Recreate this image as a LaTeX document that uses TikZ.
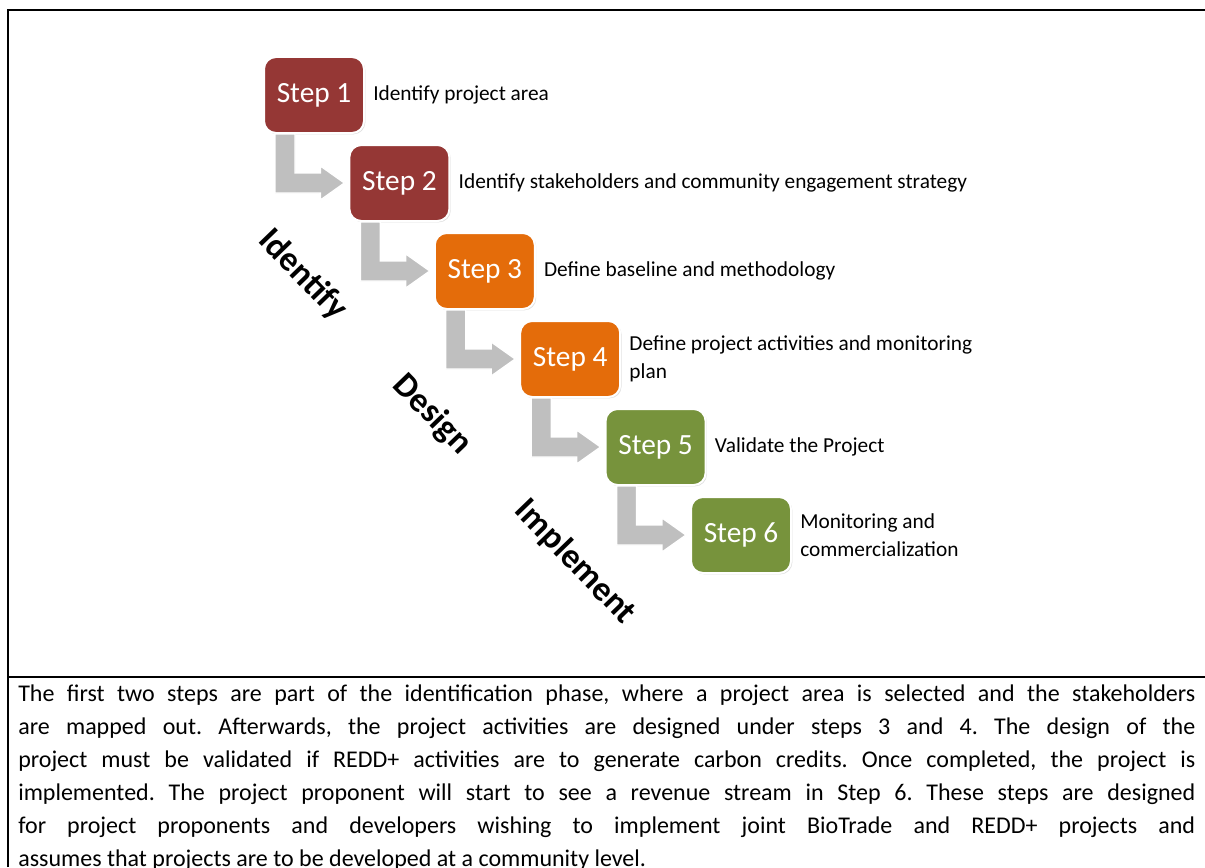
\documentclass[tikz,border=0pt]{standalone}
\usepackage{fontspec}
\setmainfont{Carlito}
\usetikzlibrary{calc,shadows}

\definecolor{stepred}{HTML}{953735}
\definecolor{steporange}{HTML}{E46C0A}
\definecolor{stepgreen}{HTML}{77933C}

\tikzset{
  stepbox/.style={rounded corners=9pt, draw=white, line width=1.5pt,
    minimum width=75pt, minimum height=57pt, text=white,
    font=\fontsize{22}{26}\selectfont,
    drop shadow={opacity=0.25, shadow xshift=1pt, shadow yshift=-1pt}},
  steplabel/.style={anchor=west, align=left, inner sep=0pt,
    font=\fontsize{16}{21}\selectfont},
  phase/.style={rotate=-46, font=\bfseries\fontsize{26}{30}\selectfont},
  bentarrow/.style={fill=gray!50, draw=white, line width=1pt}
}

\begin{document}
\begin{tikzpicture}[x=0.75pt,y=-0.75pt]
      \useasboundingbox (0,0) rectangle (1205,867);
      \fill [white] (0,0) rectangle (1205,867);

      % table frame
      \draw [line width=1.5pt] (8,867) -- (8,10) -- (1205,10);
      \draw [line width=1.5pt] (8,677) -- (1205,677);

      % steps and their labels
      \foreach \i/\col/\txt in {1/stepred/{Identify project area},
          2/stepred/{Identify stakeholders and community engagement strategy},
          3/steporange/{Define baseline and methodology},
          4/steporange/{Define project activities and monitoring\\plan},
          5/stepgreen/{Validate the Project},
          6/stepgreen/{Monitoring and\\commercialization}}
      {
        \node [stepbox, fill=\col] (s\i) at ({314+85.4*(\i-1)},{95+88*(\i-1)}) {Step \i};
        \node [steplabel] (l\i) at ($(s\i.east)+(8,0)$) {\txt};
      }

      % bent arrows
      \foreach \i [evaluate=\i as \j using int(\i+1)] in {1,...,5}
        \filldraw [bentarrow] ($(s\i.south)+(-39,0)$) |- ($(s\j.west)+(-28,10)$)
          -- ++(0,7) -- ($(s\j.west)+(-4,0)$) -- ($(s\j.west)+(-28,-17)$)
          -- ++(0,7) -| ($(s\i.south)+(-19,0)$) -- cycle;

      \node [phase] (ph1) at (303,275) {Identify};
      \node [phase] (ph2) at (432,415) {Design};
      \node [phase] (ph3) at (575,562) {Implement};

      \node [anchor=north west, inner sep=0pt, text width=882.75pt, align=justify,
        font=\fontsize{18}{24.75}\selectfont] (body) at (18,685)
        {\frenchspacing\hyphenpenalty=10000
        The first two steps are part of the identification phase, where a project area is selected and the stakeholders\linebreak
        are mapped out. Afterwards, the project activities are designed under steps 3 and 4. The design of the\linebreak
        project must be validated if REDD+ activities are to generate carbon credits. Once completed, the project is\linebreak
        implemented. The project proponent will start to see a revenue stream in Step 6. These steps are designed\linebreak
        for project proponents and developers wishing to implement joint BioTrade and REDD+ projects and\linebreak
        assumes that projects are to be developed at a community level.};
\end{tikzpicture}
\end{document}
